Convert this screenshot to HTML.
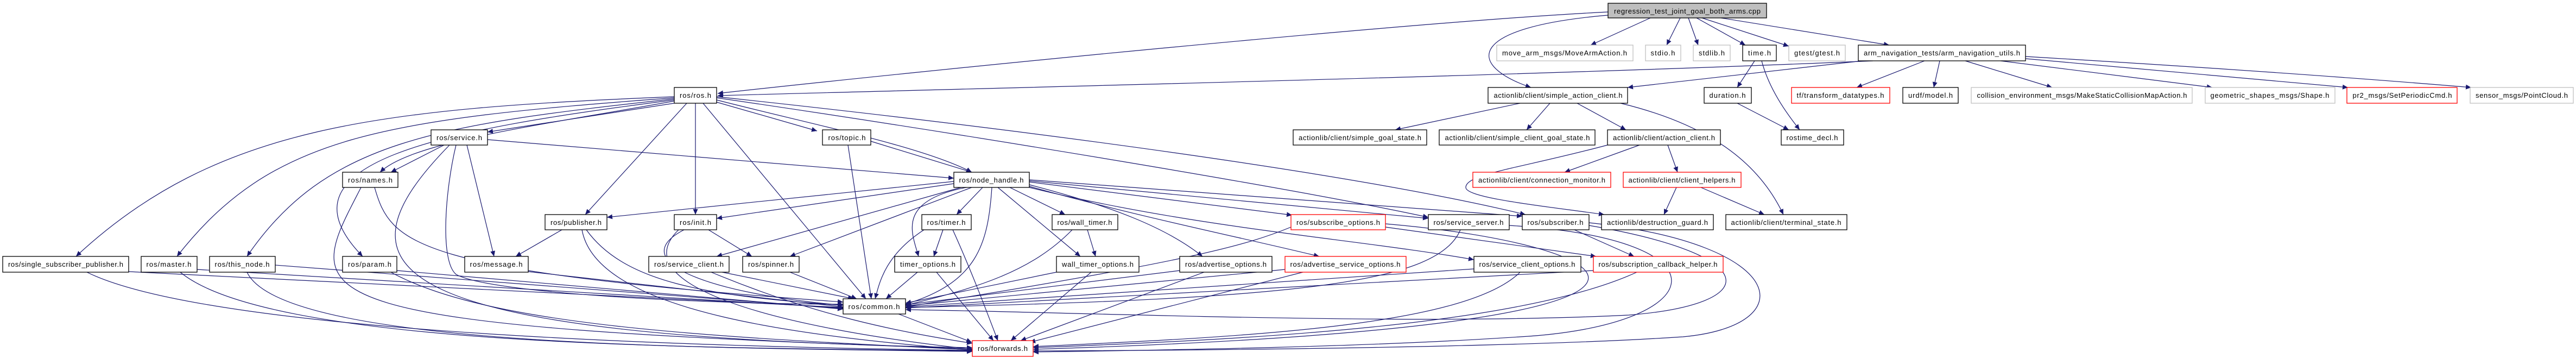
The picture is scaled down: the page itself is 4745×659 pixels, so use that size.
<!DOCTYPE html>
<html><head><meta charset="utf-8"><style>
html,body{margin:0;padding:0;background:#fff;}
svg{display:block;}
.e path{fill:none;stroke:#191970;stroke-width:1.2;}
text{font-family:"Liberation Sans",sans-serif;font-size:13px;fill:#000;text-anchor:middle;}
.b{fill:#fff;stroke:#000;stroke-width:1.3;}
.g{fill:#fff;stroke:#bfbfbf;stroke-width:1.3;}
.r{fill:#fff;stroke:#ff0000;stroke-width:1.3;}
.root{fill:#bfbfbf;stroke:#000;stroke-width:1.3;}
</style></head><body>
<svg width="4745" height="659" viewBox="0 0 4745 659" xmlns="http://www.w3.org/2000/svg">
<defs><marker id="a" markerUnits="userSpaceOnUse" markerWidth="11" markerHeight="9" refX="10" refY="4.5" orient="auto"><path d="M0,0 L10,4.5 L0,9 z" fill="#191970"/></marker></defs>
<g class="e" marker-end="url(#a)">
<path d="M2962,22 C2600,40 1700,130 1322,172"/>
<path d="M2962,28 C2700,50 2700,120 2820,161"/>
<path d="M3040,33 L2930,83"/>
<path d="M3095,33 L3070,83"/>
<path d="M3110,33 L3128,83"/>
<path d="M3125,33 L3215,83"/>
<path d="M3135,33 L3295,85"/>
<path d="M3170,33 L3480,83"/>
<path d="M3232,112 L3200,161"/>
<path d="M3245,112 C3260,170 3300,220 3315,239"/>
<path d="M3200,190 L3295,239"/>
<path d="M3450,112 C2800,140 1900,160 1322,176"/>
<path d="M3430,112 L2998,161"/>
<path d="M3545,112 L3420,161"/>
<path d="M3573,112 L3562,161"/>
<path d="M3620,112 L3780,161"/>
<path d="M3685,112 L4075,161"/>
<path d="M3731,108 L4325,161"/>
<path d="M3731,104 C4000,120 4300,140 4552,161"/>
<path d="M2800,190 L2570,239"/>
<path d="M2855,190 L2812,239"/>
<path d="M2905,190 L2995,239"/>
<path d="M2985,190 C3150,230 3240,300 3285,395"/>
<path d="M3020,267 L2882,317"/>
<path d="M3072,267 L3090,317"/>
<path d="M2961,267 C2800,310 2700,320 2700,345 C2700,365 2850,380 2955,395"/>
<path d="M3088,345 L3065,395"/>
<path d="M3133,345 L3250,395"/>
<path d="M1242,178 C700,200 400,230 140,472"/>
<path d="M1242,180 C700,220 500,250 326,472"/>
<path d="M1242,182 C800,230 600,260 455,472"/>
<path d="M1242,184 C800,240 500,300 668,472"/>
<path d="M1242,186 C1000,230 760,260 700,317"/>
<path d="M1242,190 L898,243"/>
<path d="M1265,190 L1078,395"/>
<path d="M1320,188 L1505,241"/>
<path d="M1320,184 C1500,230 1700,270 1790,317"/>
<path d="M1281,190 L1281,395"/>
<path d="M1295,190 L1595,550"/>
<path d="M1320,180 C1800,250 2400,350 2631,400"/>
<path d="M1320,178 C1900,240 2500,320 2810,395"/>
<path d="M818,267 L720,317"/>
<path d="M860,267 L910,472"/>
<path d="M898,257 L1757,328"/>
<path d="M840,267 C820,350 810,480 840,505 C900,540 1300,560 1553,560"/>
<path d="M828,267 C600,500 700,620 1791,640"/>
<path d="M690,345 C720,450 760,500 1553,556"/>
<path d="M665,345 C560,550 500,600 1791,642"/>
<path d="M1035,423 L950,472"/>
<path d="M1080,423 C1150,520 1300,545 1553,562"/>
<path d="M1072,423 C1100,580 1500,620 1791,645"/>
<path d="M1604,260 L1790,317"/>
<path d="M1562,267 L1605,550"/>
<path d="M1757,338 L1320,402"/>
<path d="M1757,334 C1500,360 1300,380 1118,400"/>
<path d="M1770,345 L1320,472"/>
<path d="M1790,345 L1455,472"/>
<path d="M1810,345 L1762,395"/>
<path d="M1780,345 C1650,370 1680,430 1692,472"/>
<path d="M1860,345 L1962,395"/>
<path d="M1838,345 L1990,472"/>
<path d="M1896,340 C2050,380 2150,420 2215,472"/>
<path d="M1896,335 L2380,396"/>
<path d="M1896,333 L2631,402"/>
<path d="M1896,331 L2804,398"/>
<path d="M1896,343 C2100,400 2300,440 2430,472"/>
<path d="M1896,345 C2200,420 2500,440 2715,478"/>
<path d="M1827,345 C1820,450 1800,520 1668,560"/>
<path d="M1305,423 L1385,472"/>
<path d="M1260,423 C1150,480 1300,540 1553,562"/>
<path d="M1250,423 C1150,520 1400,600 1791,643"/>
<path d="M1737,423 L1720,472"/>
<path d="M1702,423 C1630,470 1620,520 1612,550"/>
<path d="M1755,423 C1790,500 1820,580 1838,627"/>
<path d="M2003,423 L2018,472"/>
<path d="M1975,423 C1900,500 1800,530 1668,562"/>
<path d="M237,500 L1553,566"/>
<path d="M363,496 L1553,567"/>
<path d="M507,488 L1553,568"/>
<path d="M731,498 L1553,569"/>
<path d="M973,500 L1553,565"/>
<path d="M1330,501 L1572,550"/>
<path d="M1455,501 L1578,550"/>
<path d="M1690,501 L1632,550"/>
<path d="M1946,501 L1668,558"/>
<path d="M2173,498 L1668,561"/>
<path d="M2367,496 L1668,563"/>
<path d="M2715,495 L1668,565"/>
<path d="M2935,498 L1668,567"/>
<path d="M160,501 C400,620 1400,640 1791,645"/>
<path d="M332,501 C500,640 1300,640 1791,646"/>
<path d="M455,501 C520,640 1300,640 1791,647"/>
<path d="M720,501 C900,600 1300,620 1791,644"/>
<path d="M1310,501 C1500,580 1650,610 1791,632"/>
<path d="M1725,501 L1830,627"/>
<path d="M2010,501 L1862,627"/>
<path d="M2218,501 L1880,627"/>
<path d="M2400,501 L1897,630"/>
<path d="M2800,501 C2700,600 2300,620 1903,638"/>
<path d="M3015,501 C2800,600 2300,625 1903,640"/>
<path d="M1655,578 L1790,630"/>
<path d="M2552,418 L2940,472"/>
<path d="M2378,418 C2300,450 2200,480 1668,565"/>
<path d="M2552,412 C3000,450 3300,600 1903,643"/>
<path d="M2900,423 L3010,472"/>
<path d="M2927,410 C3300,450 3320,600 3100,620 C2800,640 2200,645 1903,646"/>
<path d="M2927,415 C3250,470 3250,560 3000,580 C2600,600 2000,575 1668,570"/>
<path d="M2690,423 C2650,520 2400,550 1668,566"/>
<path d="M2780,415 C3200,440 3150,600 2800,620 C2500,640 2100,645 1903,648"/>
</g>
<g>
<rect class="root" x="2962" y="6" width="292" height="27"/><text x="3108" y="25" textLength="270">regression_test_joint_goal_both_arms.cpp</text>
<rect class="g" x="2757" y="83" width="251" height="29"/><text x="2882" y="102" textLength="230">move_arm_msgs/MoveArmAction.h</text>
<rect class="g" x="3031" y="83" width="65" height="29"/><text x="3063" y="102" textLength="45">stdio.h</text>
<rect class="g" x="3119" y="83" width="68" height="29"/><text x="3153" y="102" textLength="48">stdlib.h</text>
<rect class="b" x="3210" y="83" width="62" height="29"/><text x="3241" y="102" textLength="42">time.h</text>
<rect class="g" x="3295" y="83" width="104" height="29"/><text x="3347" y="102" textLength="84">gtest/gtest.h</text>
<rect class="b" x="3423" y="83" width="308" height="29"/><text x="3577" y="102" textLength="288">arm_navigation_tests/arm_navigation_utils.h</text>
<rect class="b" x="1242" y="161" width="78" height="29"/><text x="1281" y="180" textLength="58">ros/ros.h</text>
<rect class="b" x="2741" y="161" width="257" height="29"/><text x="2870" y="180" textLength="237">actionlib/client/simple_action_client.h</text>
<rect class="b" x="3139" y="161" width="87" height="29"/><text x="3182" y="180" textLength="67">duration.h</text>
<rect class="r" x="3300" y="161" width="181" height="29"/><text x="3390" y="180" textLength="161">tf/transform_datatypes.h</text>
<rect class="b" x="3505" y="161" width="102" height="29"/><text x="3556" y="180" textLength="82">urdf/model.h</text>
<rect class="g" x="3631" y="161" width="407" height="29"/><text x="3835" y="180" textLength="387">collision_environment_msgs/MakeStaticCollisionMapAction.h</text>
<rect class="g" x="4062" y="161" width="239" height="29"/><text x="4181" y="180" textLength="219">geometric_shapes_msgs/Shape.h</text>
<rect class="r" x="4323" y="161" width="203" height="29"/><text x="4425" y="180" textLength="183">pr2_msgs/SetPeriodicCmd.h</text>
<rect class="g" x="4550" y="161" width="190" height="29"/><text x="4645" y="180" textLength="170">sensor_msgs/PointCloud.h</text>
<rect class="b" x="794" y="239" width="104" height="28"/><text x="846" y="258" textLength="84">ros/service.h</text>
<rect class="b" x="1515" y="239" width="89" height="28"/><text x="1560" y="258" textLength="69">ros/topic.h</text>
<rect class="b" x="2382" y="239" width="246" height="28"/><text x="2505" y="258" textLength="226">actionlib/client/simple_goal_state.h</text>
<rect class="b" x="2651" y="239" width="287" height="28"/><text x="2795" y="258" textLength="267">actionlib/client/simple_client_goal_state.h</text>
<rect class="b" x="2961" y="239" width="208" height="28"/><text x="3065" y="258" textLength="188">actionlib/client/action_client.h</text>
<rect class="b" x="3281" y="239" width="115" height="28"/><text x="3338" y="258" textLength="95">rostime_decl.h</text>
<rect class="b" x="631" y="317" width="102" height="28"/><text x="682" y="336" textLength="82">ros/names.h</text>
<rect class="b" x="1757" y="317" width="139" height="28"/><text x="1826" y="336" textLength="119">ros/node_handle.h</text>
<rect class="r" x="2713" y="317" width="254" height="28"/><text x="2840" y="336" textLength="234">actionlib/client/connection_monitor.h</text>
<rect class="r" x="2990" y="317" width="217" height="28"/><text x="3098" y="336" textLength="197">actionlib/client/client_helpers.h</text>
<rect class="b" x="1004" y="395" width="114" height="28"/><text x="1061" y="414" textLength="94">ros/publisher.h</text>
<rect class="b" x="1242" y="395" width="78" height="28"/><text x="1281" y="414" textLength="58">ros/init.h</text>
<rect class="b" x="1698" y="395" width="91" height="28"/><text x="1743" y="414" textLength="71">ros/timer.h</text>
<rect class="b" x="1938" y="395" width="121" height="28"/><text x="1998" y="414" textLength="101">ros/wall_timer.h</text>
<rect class="r" x="2378" y="395" width="174" height="28"/><text x="2465" y="414" textLength="154">ros/subscribe_options.h</text>
<rect class="b" x="2631" y="395" width="149" height="28"/><text x="2705" y="414" textLength="129">ros/service_server.h</text>
<rect class="b" x="2804" y="395" width="123" height="28"/><text x="2865" y="414" textLength="103">ros/subscriber.h</text>
<rect class="b" x="2950" y="395" width="206" height="28"/><text x="3053" y="414" textLength="186">actionlib/destruction_guard.h</text>
<rect class="b" x="3179" y="395" width="223" height="28"/><text x="3290" y="414" textLength="203">actionlib/client/terminal_state.h</text>
<rect class="b" x="5" y="472" width="232" height="29"/><text x="121" y="491" textLength="212">ros/single_subscriber_publisher.h</text>
<rect class="b" x="260" y="472" width="103" height="29"/><text x="311" y="491" textLength="83">ros/master.h</text>
<rect class="b" x="386" y="472" width="121" height="29"/><text x="446" y="491" textLength="101">ros/this_node.h</text>
<rect class="b" x="631" y="472" width="100" height="29"/><text x="681" y="491" textLength="80">ros/param.h</text>
<rect class="b" x="856" y="472" width="117" height="29"/><text x="914" y="491" textLength="97">ros/message.h</text>
<rect class="b" x="1195" y="472" width="148" height="29"/><text x="1269" y="491" textLength="128">ros/service_client.h</text>
<rect class="b" x="1368" y="472" width="104" height="29"/><text x="1420" y="491" textLength="84">ros/spinner.h</text>
<rect class="b" x="1648" y="472" width="122" height="29"/><text x="1709" y="491" textLength="102">timer_options.h</text>
<rect class="b" x="1946" y="472" width="152" height="29"/><text x="2022" y="491" textLength="132">wall_timer_options.h</text>
<rect class="b" x="2173" y="472" width="170" height="29"/><text x="2258" y="491" textLength="150">ros/advertise_options.h</text>
<rect class="r" x="2367" y="472" width="223" height="29"/><text x="2478" y="491" textLength="203">ros/advertise_service_options.h</text>
<rect class="b" x="2715" y="472" width="197" height="29"/><text x="2813" y="491" textLength="177">ros/service_client_options.h</text>
<rect class="r" x="2935" y="472" width="239" height="29"/><text x="3054" y="491" textLength="219">ros/subscription_callback_helper.h</text>
<rect class="b" x="1553" y="550" width="115" height="28"/><text x="1610" y="569" textLength="95">ros/common.h</text>
<rect class="r" x="1791" y="627" width="112" height="29"/><text x="1847" y="646" textLength="92">ros/forwards.h</text>
</g>
</svg>
</body></html>
